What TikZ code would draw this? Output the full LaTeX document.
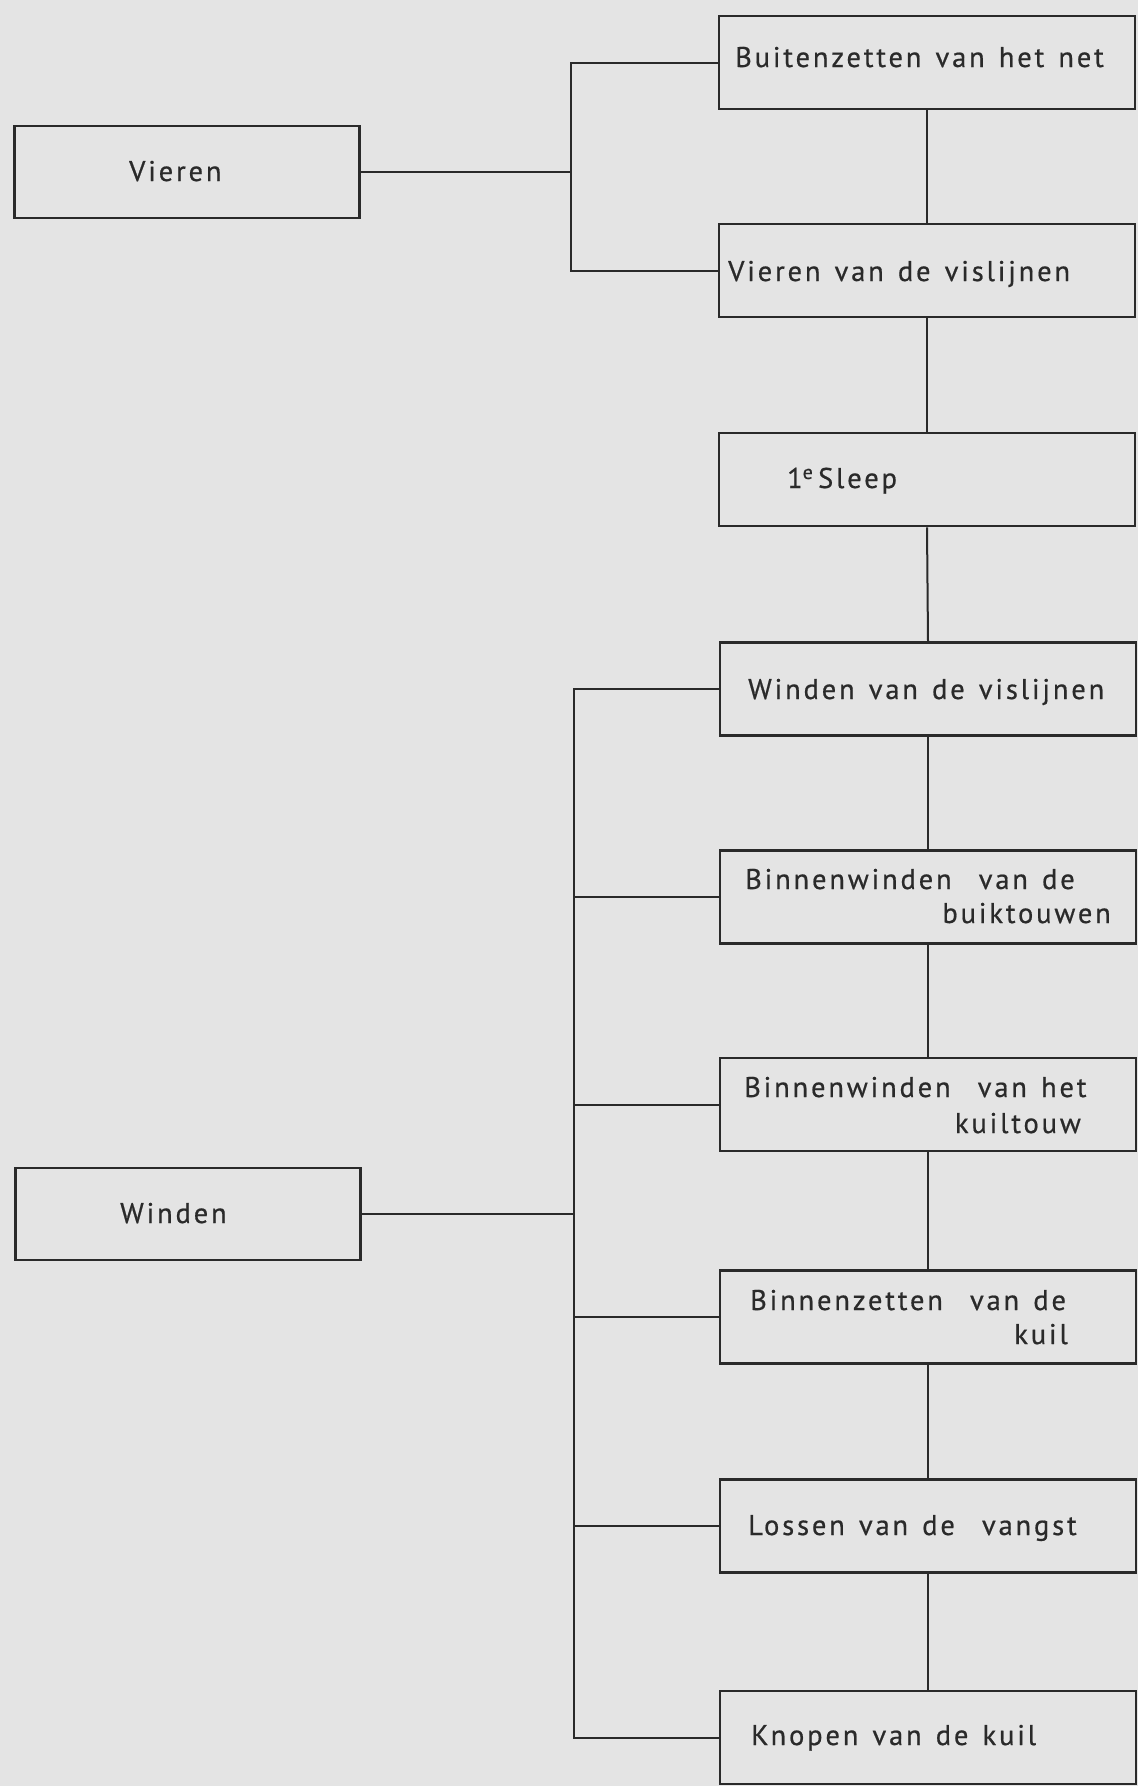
\documentclass[tikz,border=0pt]{standalone}
\usepackage{fontspec}
\setmainfont{PT Sans}[LetterSpace=10,WordSpace=1.35,FakeBold=0.6]
\definecolor{bgc}{HTML}{E4E4E4}
\definecolor{ink}{HTML}{2A2A2A}
\newcommand{\dsp}{\ \hspace{13pt}}
\begin{document}
\begin{tikzpicture}[x=1pt,y=-1pt,
  box/.style={draw=ink, line width=2.6pt, minimum width=416pt, minimum height=93pt, inner sep=0pt},
  lbox/.style={draw=ink, line width=2.6pt, minimum width=345pt, minimum height=92pt, inner sep=0pt},
  conn/.style={draw=ink, line width=2pt},
  lbl/.style={font=\fontsize{28.5}{30}\selectfont, text=ink, inner sep=0pt, anchor=base west},
  lblr/.style={lbl, anchor=base east}]
\fill[bgc] (0,0) rectangle (1138,1786);
\useasboundingbox (0,0) rectangle (1138,1786);

% left boxes
\node[lbox] (vieren) at (187,172) {};
\node[lbox] (winden) at (188,1214) {};
% right column
\node[box] (b1) at (927,62.5) {};
\node[box] (b2) at (927,270.5) {};
\node[box] (b3) at (927,479.5) {};
\node[box] (b4) at (928,689) {};
\node[box] (b5) at (928,897) {};
\node[box] (b6) at (928,1104.5) {};
\node[box] (b7) at (928,1317) {};
\node[box] (b8) at (928,1526) {};
\node[box] (b9) at (928,1737.5) {};

% labels
\node[lbl] (tv) at (129,181) {Vieren};
\node[lbl] (tw) at (120,1223) {Winden};
\node[lbl] (t1) at (735,67) {Buitenzetten van het net};
\node[lbl] (t2) at (728,281) {Vieren van de vislijnen};
\node[lbl] (t3) at (787,488) {1\textsuperscript{e}\,Sleep};
\node[lbl] (t4) at (748,699) {Winden van de vislijnen};
\node[lbl] (t5a) at (745,889) {Binnenwinden\dsp van de};
\node[lblr] (t5b) at (1111,923) {buiktouwen};
\node[lbl] (t6a) at (744,1097) {Binnenwinden\dsp van het};
\node[lblr] (t6b) at (1081,1133) {kuiltouw};
\node[lbl] (t7a) at (750,1310) {Binnenzetten\dsp van de};
\node[lblr] (t7b) at (1068,1344) {kuil};
\node[lbl] (t8) at (748,1535) {Lossen van de\dsp vangst};
\node[lbl] (t9) at (751,1745) {Knopen van de kuil};

% bus coordinates
\coordinate (bus1) at (571,0);
\coordinate (bus2) at (574,0);

% Vieren group
\draw[conn] (b1.west) -- (b1.west -| bus1) -- (b2.west -| bus1) -- (b2.west);
\draw[conn] (vieren.east) -- (vieren.east -| bus1);

% Winden group
\draw[conn] (b4.west) -- (b4.west -| bus2) -- (b9.west -| bus2) -- (b9.west);
\foreach \b in {b5,b6,b7,b8} {\draw[conn] (\b.west -| bus2) -- (\b.west);}
\draw[conn] (winden.east) -- (winden.east -| bus2);

% vertical chain
\draw[conn] (b1.south) -- (b2.north);
\draw[conn] (b2.south) -- (b3.north);
\draw[conn] (b3.south) -- (b4.north);
\draw[conn] (b4.south) -- (b5.north);
\draw[conn] (b5.south) -- (b6.north);
\draw[conn] (b6.south) -- (b7.north);
\draw[conn] (b7.south) -- (b8.north);
\draw[conn] (b8.south) -- (b9.north);
\end{tikzpicture}
\end{document}
